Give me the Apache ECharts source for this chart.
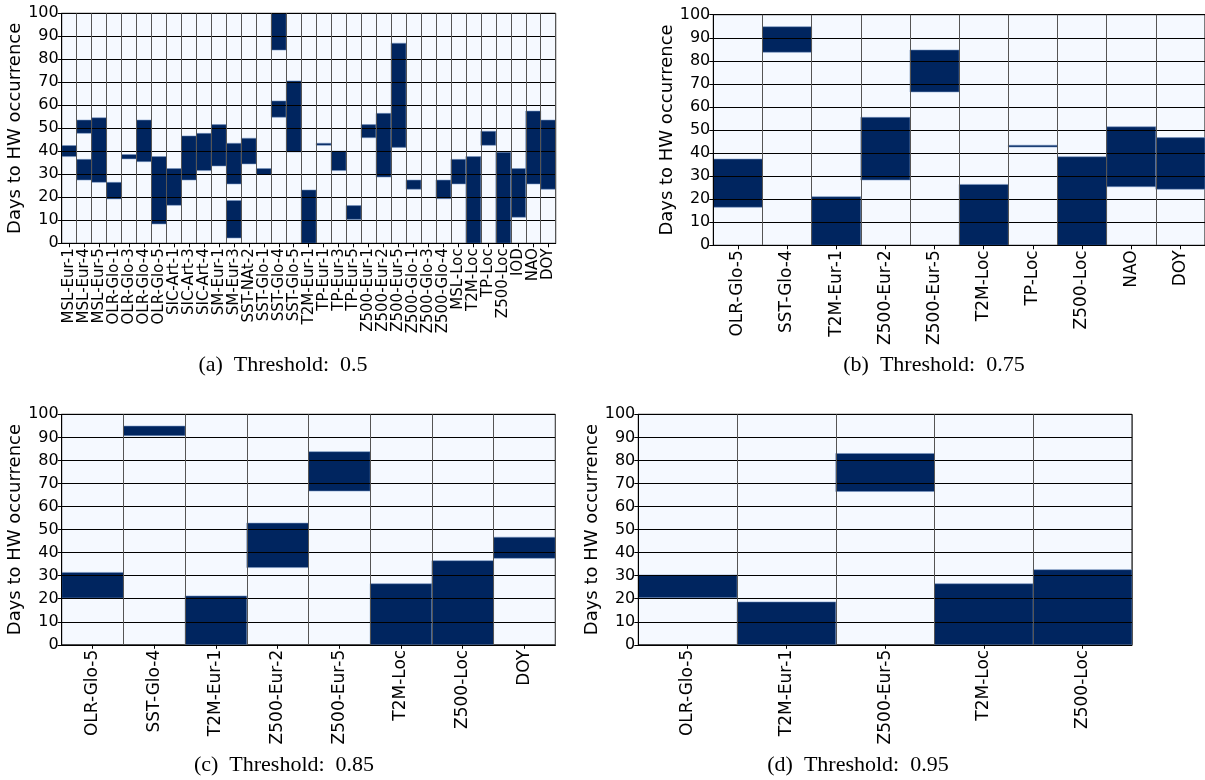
<!DOCTYPE html>
<html>
<head>
<meta charset="utf-8">
<script src="https://cdn.jsdelivr.net/npm/echarts@6/dist/echarts.min.js"></script>
<style>
html,body{margin:0;padding:0;background:#fff;}
#chart{width:1205px;height:780px;}
</style>
</head>
<body>
<div id="chart"></div>
<script>
// ---------- DATA ----------
const yTicks = [0,10,20,30,40,50,60,70,80,90,100];

// (a) Threshold 0.5
const catsA = ['MSL-Eur-1','MSL-Eur-4','MSL-Eur-5','OLR-Glo-1','OLR-Glo-3','OLR-Glo-4','OLR-Glo-5','SIC-Art-1','SIC-Art-3','SIC-Art-4','SM-Eur-1','SM-Eur-3','SST-NAt-2','SST-Glo-1','SST-Glo-4','SST-Glo-5','T2M-Eur-1','TP-Eur-1','TP-Eur-3','TP-Eur-5','Z500-Eur-1','Z500-Eur-2','Z500-Eur-5','Z500-Glo-1','Z500-Glo-3','Z500-Glo-4','MSL-Loc','T2M-Loc','TP-Loc','Z500-Loc','IOD','NAO','DOY'];
const segCatA = ['MSL-Eur-1','MSL-Eur-4','MSL-Eur-4','MSL-Eur-5','OLR-Glo-1','OLR-Glo-3','OLR-Glo-4','OLR-Glo-5','SIC-Art-1','SIC-Art-3','SIC-Art-4','SM-Eur-1','SM-Eur-3','SM-Eur-3','SST-NAt-2','SST-Glo-1','SST-Glo-4','SST-Glo-4','SST-Glo-5','T2M-Eur-1','TP-Eur-1','TP-Eur-3','TP-Eur-5','Z500-Eur-1','Z500-Eur-2','Z500-Eur-5','Z500-Glo-1','Z500-Glo-4','MSL-Loc','T2M-Loc','TP-Loc','Z500-Loc','IOD','NAO','DOY'];
const segLoA  = [37.7,27.5,47.8,26.5,19.3,36.7,35.5, 8.4,16.5,27.5,31.6,33.6, 2.3,25.8,34.5,29.9,54.8,84.0,39.7, 0.0,42.6,31.6,10.4,45.9,28.8,41.7,23.5,19.4,25.8, 0.0,42.6, 0.0,11.3,25.8,23.5];
const segHiA  = [42.5,36.5,53.6,54.6,26.5,38.6,53.6,37.7,32.5,46.7,47.8,51.6,18.6,43.5,45.7,32.5,61.9,100.0,70.6,23.2,43.5,40.1,16.4,51.6,56.5,87.0,27.5,27.5,36.5,37.7,48.7,39.6,32.5,57.5,53.6];

// (b) Threshold 0.75
const catsB = ['OLR-Glo-5','SST-Glo-4','T2M-Eur-1','Z500-Eur-2','Z500-Eur-5','T2M-Loc','TP-Loc','Z500-Loc','NAO','DOY'];
const loB   = [16.5,83.7, 0.0,28.3,66.5, 0.0,42.6, 0.0,25.4,24.3];
const hiB   = [37.4,94.8,21.1,55.5,84.7,26.4,43.4,38.4,51.4,46.7];

// (c) Threshold 0.85
const catsC = ['OLR-Glo-5','SST-Glo-4','T2M-Eur-1','Z500-Eur-2','Z500-Eur-5','T2M-Loc','Z500-Loc','DOY'];
const loC   = [20.3,90.7, 0.0,33.5,66.7, 0.0, 0.0,37.5];
const hiC   = [31.4,94.9,21.2,52.8,83.8,26.5,36.5,46.7];

// (d) Threshold 0.95
const catsD = ['OLR-Glo-5','T2M-Eur-1','Z500-Eur-5','T2M-Loc','Z500-Loc'];
const loD   = [20.4, 0.0,66.5, 0.0, 0.0];
const hiD   = [30.3,18.6,83.0,26.5,32.6];

const captions = ['(a)  Threshold:  0.5','(b)  Threshold:  0.75','(c)  Threshold:  0.85','(d)  Threshold:  0.95'];
const yName = 'Days to HW occurrence';

// ---------- LAYOUT / STYLE ----------
const DARK = '#00255f';
const LIGHT = '#f5f9ff';
const FONT = '"DejaVu Sans"';
const grids = [
  {left:61.7, top:13.3, width:494, height:230},
  {left:713.3, top:14.7, width:493, height:230.6},
  {left:61.7, top:414.3, width:493.6, height:230.5},
  {left:638.3, top:414.3, width:493.7, height:230.5}
];
const nameGaps = [34, 35, 34, 35];
const xLabelSizes = [15, 17, 17, 17];
const captionPos = [[283,365],[934,365],[284,765],[858,765]];

const panels = [
  {cats:catsA, segs: segCatA.map((c,i)=>[c, segLoA[i], segHiA[i]])},
  {cats:catsB, segs: catsB.map((c,i)=>[c, loB[i], hiB[i]])},
  {cats:catsC, segs: catsC.map((c,i)=>[c, loC[i], hiC[i]])},
  {cats:catsD, segs: catsD.map((c,i)=>[c, loD[i], hiD[i]])}
];

function renderItem(params, api){
  const c = api.value(0);
  const p0 = api.coord([c, api.value(1)]);
  const p1 = api.coord([c, api.value(2)]);
  const w = api.size([1,0])[0];
  return {
    type:'rect',
    shape:{x:p0[0]-w/2, y:p1[1], width:w, height:p0[1]-p1[1]},
    style:{fill:DARK, stroke:'rgba(120,150,195,0.7)', lineWidth:0.8}
  };
}

const option = {
  animation:false,
  backgroundColor:'#ffffff',
  grid: grids.map(g=>Object.assign({show:true, backgroundColor:LIGHT, borderColor:'#000', borderWidth:1, containLabel:false}, g)),
  xAxis: panels.map((p,i)=>({
    type:'category', gridIndex:i, data:p.cats, z:5,
    boundaryGap:true,
    axisLine:{show:true, lineStyle:{color:'#000', width:1}},
    axisTick:{show:true, alignWithLabel:true, length:4, lineStyle:{color:'#000'}},
    axisLabel:{interval:0, rotate:90, fontFamily:FONT, fontSize:xLabelSizes[i], color:'#000', margin:5},
    splitLine:{show:true, lineStyle:{color:'#555', width:1}}
  })),
  yAxis: panels.map((p,i)=>({
    type:'value', gridIndex:i, min:0, max:100, interval:10, z:5,
    name:yName, nameLocation:'middle', nameGap:nameGaps[i], nameRotate:90,
    nameTextStyle:{fontFamily:FONT, fontSize:18, color:'#000'},
    axisLine:{show:true, lineStyle:{color:'#000', width:1}},
    axisTick:{show:true, length:4, lineStyle:{color:'#000'}},
    axisLabel:{fontFamily:FONT, fontSize:16, color:'#000', margin:3},
    splitLine:{show:true, lineStyle:{color:'#000', width:1}}
  })),
  series: panels.map((p,i)=>({
    type:'custom', xAxisIndex:i, yAxisIndex:i, z:1,
    renderItem: renderItem,
    encode:{x:0, y:[1,2]},
    data:p.segs,
    clip:true
  })),
  graphic: captions.map((t,i)=>({
    type:'text', x:captionPos[i][0], y:captionPos[i][1], z:10,
    style:{text:t, textAlign:'center', textVerticalAlign:'middle', font:'22px "Liberation Serif"', fill:'#000'}
  }))
};

const chart = echarts.init(document.getElementById('chart'), null, {renderer:'canvas'});
chart.setOption(option);
</script>
</body>
</html>
